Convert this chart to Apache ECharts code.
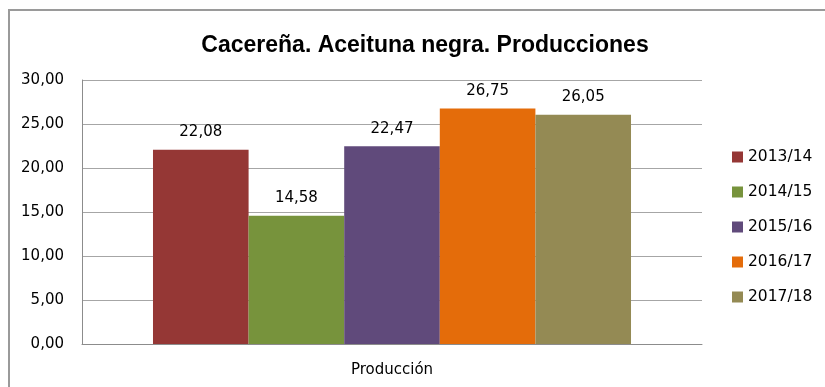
<!DOCTYPE html>
<html>
<head>
<meta charset="utf-8">
<script src="https://cdn.jsdelivr.net/npm/echarts@6/dist/echarts.min.js"></script>
<style>html,body{margin:0;padding:0;background:#fff}#c{width:825px;height:387px}</style>
</head>
<body>
<div id="c"></div>
<script>
const titleText = 'Cacereña. Aceituna negra. Producciones';
const categories = ['Producción'];
const seriesNames = ['2013/14', '2014/15', '2015/16', '2016/17', '2017/18'];
const seriesValues = [22.08, 14.58, 22.47, 26.75, 26.05];
const seriesColors = ['#953735', '#77933C', '#604A7B', '#E46C0A', '#948A54'];
const yTicks = [0, 5, 10, 15, 20, 25, 30];

const fmt = v => Number(v).toFixed(2).replace('.', ',');
const FONT = 'DejaVu Sans';

const chart = echarts.init(document.getElementById('c'), null, {renderer: 'canvas'});
chart.setOption({
  animation: false,
  backgroundColor: '#fff',
  title: {
    text: titleText,
    left: 420,
    textAlign: 'center',
    top: 29,
    textStyle: {fontFamily: 'Liberation Sans', fontWeight: 'bold', fontSize: 23, color: '#000'}
  },
  graphic: [{
    type: 'polyline',
    shape: {points: [[9, 400], [9, 10], [830, 10]]},
    style: {stroke: '#9a9a9a', lineWidth: 2, fill: null},
    silent: true
  }],
  legend: {
    orient: 'vertical',
    left: 732,
    top: 149,
    padding: 0,
    icon: 'rect',
    itemWidth: 11,
    itemHeight: 11,
    itemGap: 19,
    textStyle: {fontFamily: FONT, fontSize: 15.5, lineHeight: 16, color: '#000'},
    data: seriesNames
  },
  grid: {left: 82, right: 123, top: 80, bottom: 43, containLabel: false},
  xAxis: {
    type: 'category',
    data: categories,
    axisLine: {lineStyle: {color: '#8c8c8c', width: 1}},
    axisTick: {show: false},
    axisLabel: {fontFamily: FONT, fontSize: 15, color: '#000', margin: 19}
  },
  yAxis: {
    type: 'value',
    min: yTicks[0],
    max: yTicks[yTicks.length - 1],
    interval: yTicks[1] - yTicks[0],
    axisLine: {show: true, lineStyle: {color: '#8c8c8c', width: 1}},
    axisTick: {show: false},
    splitLine: {lineStyle: {color: '#a6a6a6', width: 1}},
    axisLabel: {fontFamily: FONT, fontSize: 15, color: '#000', margin: 18, formatter: fmt}
  },
  series: seriesNames.map((name, i) => ({
    type: 'bar',
    name: name,
    data: [seriesValues[i]],
    barGap: '0%',
    barCategoryGap: '22.9%',
    itemStyle: {color: seriesColors[i]},
    label: {
      show: true,
      position: 'top',
      distance: 10,
      fontFamily: FONT,
      fontSize: 15,
      color: '#000',
      formatter: p => fmt(p.value)
    }
  }))
});
</script>
</body>
</html>
